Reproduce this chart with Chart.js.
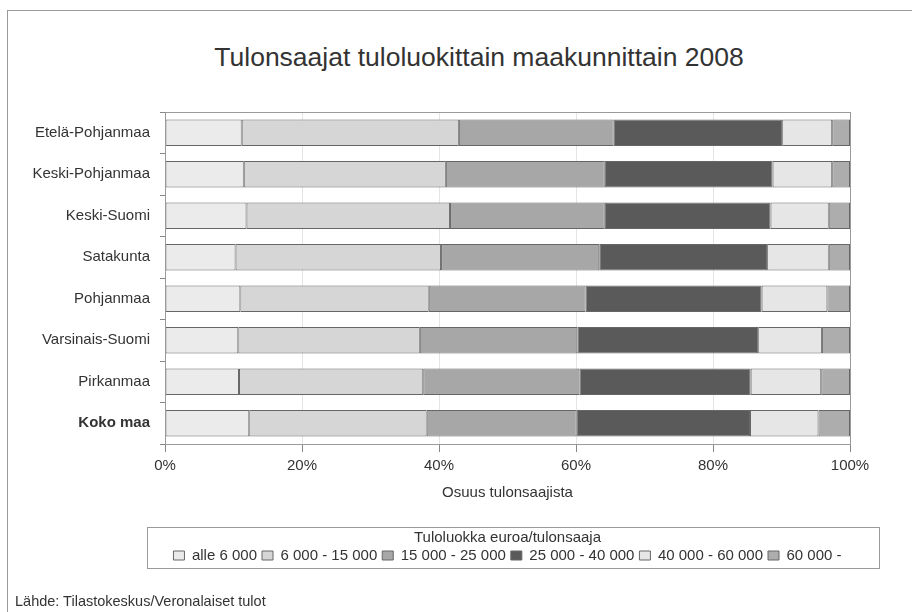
<!DOCTYPE html>
<html lang="fi">
<head>
    <meta charset="UTF-8">
    <title>Tulonsaajat tuloluokittain maakunnittain 2008</title>
    <script src="https://cdn.jsdelivr.net/npm/chart.js"></script>
    <style>
        body {
            margin: 0;
            width: 912px;
            height: 612px;
            overflow: hidden;
            background: #fff;
            font-family: "Liberation Sans", Arial, sans-serif;
            color: #333;
            position: relative;
        }

        /* outer frame, only top and left edges show */
        .frame {
            position: absolute;
            left: 7px;
            top: 10px;
            width: 1000px;
            height: 700px;
            border: 1px solid #9a9a9a;
        }

        h1 {
            position: absolute;
            left: 0;
            width: 958px;
            top: 44px;
            margin: 0;
            text-align: center;
            font-weight: normal;
            font-size: 26.5px;
            line-height: 26px;
            color: #333;
        }

        #chart {
            position: absolute;
            left: 0;
            top: 0;
        }

        .source {
            position: absolute;
            left: 15px;
            top: 594px;
            font-size: 14.5px;
            line-height: 15px;
        }
    </style>
</head>
<body>
    <div class="frame"></div>
    <h1>Tulonsaajat tuloluokittain maakunnittain 2008</h1>
    <canvas id="chart" width="912" height="612"></canvas>
    <div class="source">Lähde: Tilastokeskus/Veronalaiset tulot</div>

    <script>
        // regions, top to bottom
        const regions = ['Etelä-Pohjanmaa', 'Keski-Pohjanmaa', 'Keski-Suomi', 'Satakunta',
                         'Pohjanmaa', 'Varsinais-Suomi', 'Pirkanmaa', 'Koko maa'];

        // share of income earners (%) per income class
        const alle6000   = [11.2, 11.5, 11.9, 10.3, 11.0, 10.7, 10.8, 12.3];
        const k6to15     = [31.7, 29.5, 29.7, 30.0, 27.5, 26.5, 26.9, 25.9];
        const k15to25    = [22.6, 23.2, 22.6, 23.1, 22.9, 23.0, 22.8, 21.9];
        const k25to40    = [24.6, 24.5, 24.2, 24.5, 25.7, 26.4, 25.0, 25.3];
        const k40to60    = [7.3, 8.7, 8.5, 9.0, 9.6, 9.3, 10.3, 10.0];
        const yli60000   = [2.6, 2.6, 3.1, 3.1, 3.3, 4.1, 4.2, 4.6];

        const classLabels = ['alle 6 000', '6 000 - 15 000', '15 000 - 25 000',
                             '25 000 - 40 000', '40 000 - 60 000', '60 000 -'];
        const xTicks = [0, 20, 40, 60, 80, 100];

        const fills = ['#ebebeb', '#d6d6d6', '#a7a7a7', '#5a5a5a', '#e6e6e6', '#adadad'];
        const series = [alle6000, k6to15, k15to25, k25to40, k40to60, yli60000];

        const FONT = '"Liberation Sans", Arial, sans-serif';

        // plot border and the box round the legend
        const frames = {
            id: 'frames',
            afterDraw(chart) {
                const { ctx, chartArea: a, legend } = chart;
                ctx.save();
                ctx.strokeStyle = '#9a9a9a';
                ctx.lineWidth = 1;
                ctx.strokeRect(Math.round(a.left) + 0.5, Math.round(a.top) + 0.5,
                               Math.round(a.right - a.left), Math.round(a.bottom - a.top));
                const l = Math.round(a.left) - 18;
                const r = Math.round(a.right) + 29;
                const t = Math.round(legend.top) + 2;
                const b = Math.round(legend.bottom) - 5;
                ctx.strokeRect(l + 0.5, t + 0.5, r - l, b - t);
                ctx.restore();
            }
        };

        const ctx = document.getElementById('chart').getContext('2d');
        const chart = new Chart(ctx, {
            type: 'bar',
            data: {
                labels: regions,
                datasets: series.map((vals, i) => ({
                    label: classLabels[i],
                    data: vals,
                    backgroundColor: fills[i],
                    borderColor: '#666',
                    borderWidth: 1,
                    borderSkipped: false,
                    barPercentage: 0.64,
                    categoryPercentage: 1
                }))
            },
            options: {
                indexAxis: 'y',
                responsive: false,
                animation: false,
                layout: {
                    padding: { left: 15, right: 62, top: 112, bottom: 39 }
                },
                scales: {
                    x: {
                        stacked: true,
                        min: 0,
                        max: 100,
                        afterBuildTicks: s => { s.ticks = xTicks.map(v => ({ value: v })); },
                        ticks: {
                            callback: v => v + '%',
                            color: '#333',
                            font: { family: FONT, size: 15 },
                            padding: 5,
                            maxRotation: 0
                        },
                        grid: { color: '#e4e4e4', tickColor: '#888', tickLength: 8 },
                        border: { color: '#888' },
                        title: {
                            display: true,
                            text: 'Osuus tulonsaajista',
                            color: '#333',
                            font: { family: FONT, size: 15 },
                            padding: { top: 4, bottom: 23 }
                        }
                    },
                    y: {
                        stacked: true,
                        afterFit: s => { s.width = 150; },
                        ticks: {
                            color: '#333',
                            padding: 10,
                            font: c => ({ family: FONT, size: 15,
                                          weight: regions[c.index] === 'Koko maa' ? 'bold' : 'normal' })
                        },
                        grid: { drawOnChartArea: false, tickColor: '#888', tickLength: 5 },
                        border: { color: '#888' }
                    }
                },
                plugins: {
                    legend: {
                        position: 'bottom',
                        fullSize: false,
                        title: {
                            display: true,
                            text: 'Tuloluokka euroa/tulonsaaja',
                            color: '#333',
                            font: { family: FONT, size: 15 },
                            padding: { top: 5, bottom: -5 }
                        },
                        labels: {
                            color: '#333',
                            font: { family: FONT, size: 15 },
                            boxWidth: 11,
                            boxHeight: 9,
                            padding: 5
                        }
                    },
                    tooltip: { enabled: false }
                }
            },
            plugins: [frames]
        });
    </script>
</body>
</html>
